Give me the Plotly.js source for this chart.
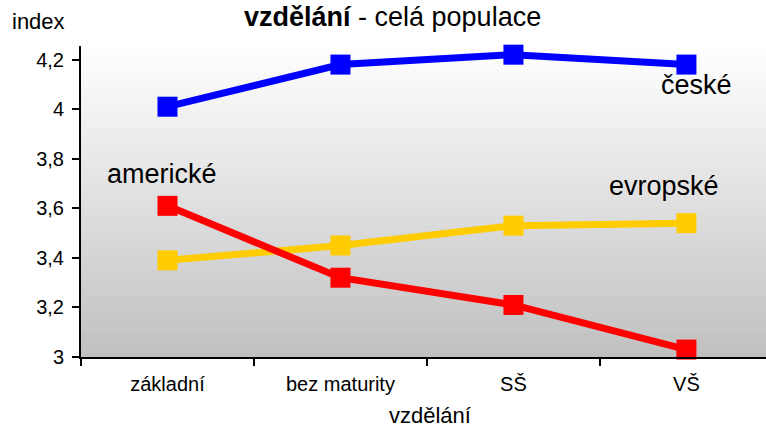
<!DOCTYPE html>
<html><head><meta charset="utf-8">
<script src="https://cdn.plot.ly/plotly-3.0.1.min.js"></script>
<style>html,body{margin:0;padding:0;background:#fff;}#chart{width:766px;height:428px;}</style>
</head><body><div id="chart"></div>
<script>
const categories = ["základní", "bez maturity", "SŠ", "VŠ"];
const ceske = [4.01, 4.18, 4.22, 4.18];
const americke = [3.61, 3.32, 3.21, 3.03];
const evropske = [3.39, 3.45, 3.53, 3.54];
const seriesNames = ["české", "americké", "evropské"];
const yTicks = [3, 3.2, 3.4, 3.6, 3.8, 4, 4.2];

const FONT = "Liberation Sans, Arial, sans-serif";
function tr(y, color, name) {
  return {x: categories, y: y, name: name, type: "scatter", mode: "lines+markers",
    line: {color: color, width: 7}, marker: {symbol: "square", size: 20, color: color},
    hoverinfo: "skip", cliponaxis: false};
}
const data = [tr(evropske, "#FFCC00", seriesNames[2]), tr(americke, "#FF0000", seriesNames[1]), tr(ceske, "#0000FF", seriesNames[0])];

// gradient background bands
const shapes = [];
const N = 80;
for (let i = 0; i < N; i++) {
  const t = (i + 0.5) / N; // 0 bottom -> 1 top
  const v = Math.round(192 + (255 - 192) * t);
  shapes.push({type: "rect", xref: "x domain", yref: "y domain", x0: 0, x1: 1,
    y0: i / N, y1: (i + 1) / N + 0.002, line: {width: 0}, fillcolor: `rgb(${v},${v},${v})`, layer: "below"});
}

const layout = {
  width: 766, height: 428,
  margin: {l: 81, r: 0, t: 46, b: 71},
  paper_bgcolor: "#fff", plot_bgcolor: "rgba(0,0,0,0)",
  separators: ", ",
  showlegend: false,
  font: {family: FONT, color: "#000"},
  xaxis: {type: "category", range: [-0.5, 3.46], showgrid: false, zeroline: false,
    showline: true, linecolor: "#000", linewidth: 2, ticks: "outside", tickson: "boundaries",
    ticklen: 7, tickwidth: 2, tickcolor: "#000", tickfont: {size: 20, family: FONT},
    ticklabelstandoff: 8},
  yaxis: {range: [3, 4.255], tickvals: yTicks, showgrid: false, zeroline: false,
    showline: true, linecolor: "#000", linewidth: 2, ticks: "outside", ticklen: 7, tickwidth: 2,
    tickcolor: "#000", tickfont: {size: 20, family: FONT}, ticklabelstandoff: 4},
  shapes: shapes,
  annotations: [
    {text: "<b>vzdělání</b> - celá populace", xref: "paper", yref: "paper", x: 0.455, y: 1.147,
      xanchor: "center", yanchor: "top", showarrow: false, font: {size: 27, family: FONT}},
    {text: "vzdělání", xref: "paper", yref: "paper", x: 0.51, y: -0.14, xanchor: "center", yanchor: "top",
      showarrow: false, font: {size: 22, family: FONT}},
    {text: "index", xref: "paper", yref: "paper", x: -0.104, y: 1.032, xanchor: "left", yanchor: "bottom", showarrow: false, font: {size: 22, family: FONT}},
    {text: "české", xref: "x", yref: "y", x: 3.06, y: 4.097, showarrow: false, font: {size: 27, family: FONT}},
    {text: "evropské", xref: "x", yref: "y", x: 2.87, y: 3.69, showarrow: false, font: {size: 27, family: FONT}},
    {text: "americké", xref: "x", yref: "y", x: -0.03, y: 3.738, showarrow: false, font: {size: 27, family: FONT}}
  ]
};
Plotly.newPlot("chart", data, layout, {staticPlot: true, displayModeBar: false});
</script></body></html>
